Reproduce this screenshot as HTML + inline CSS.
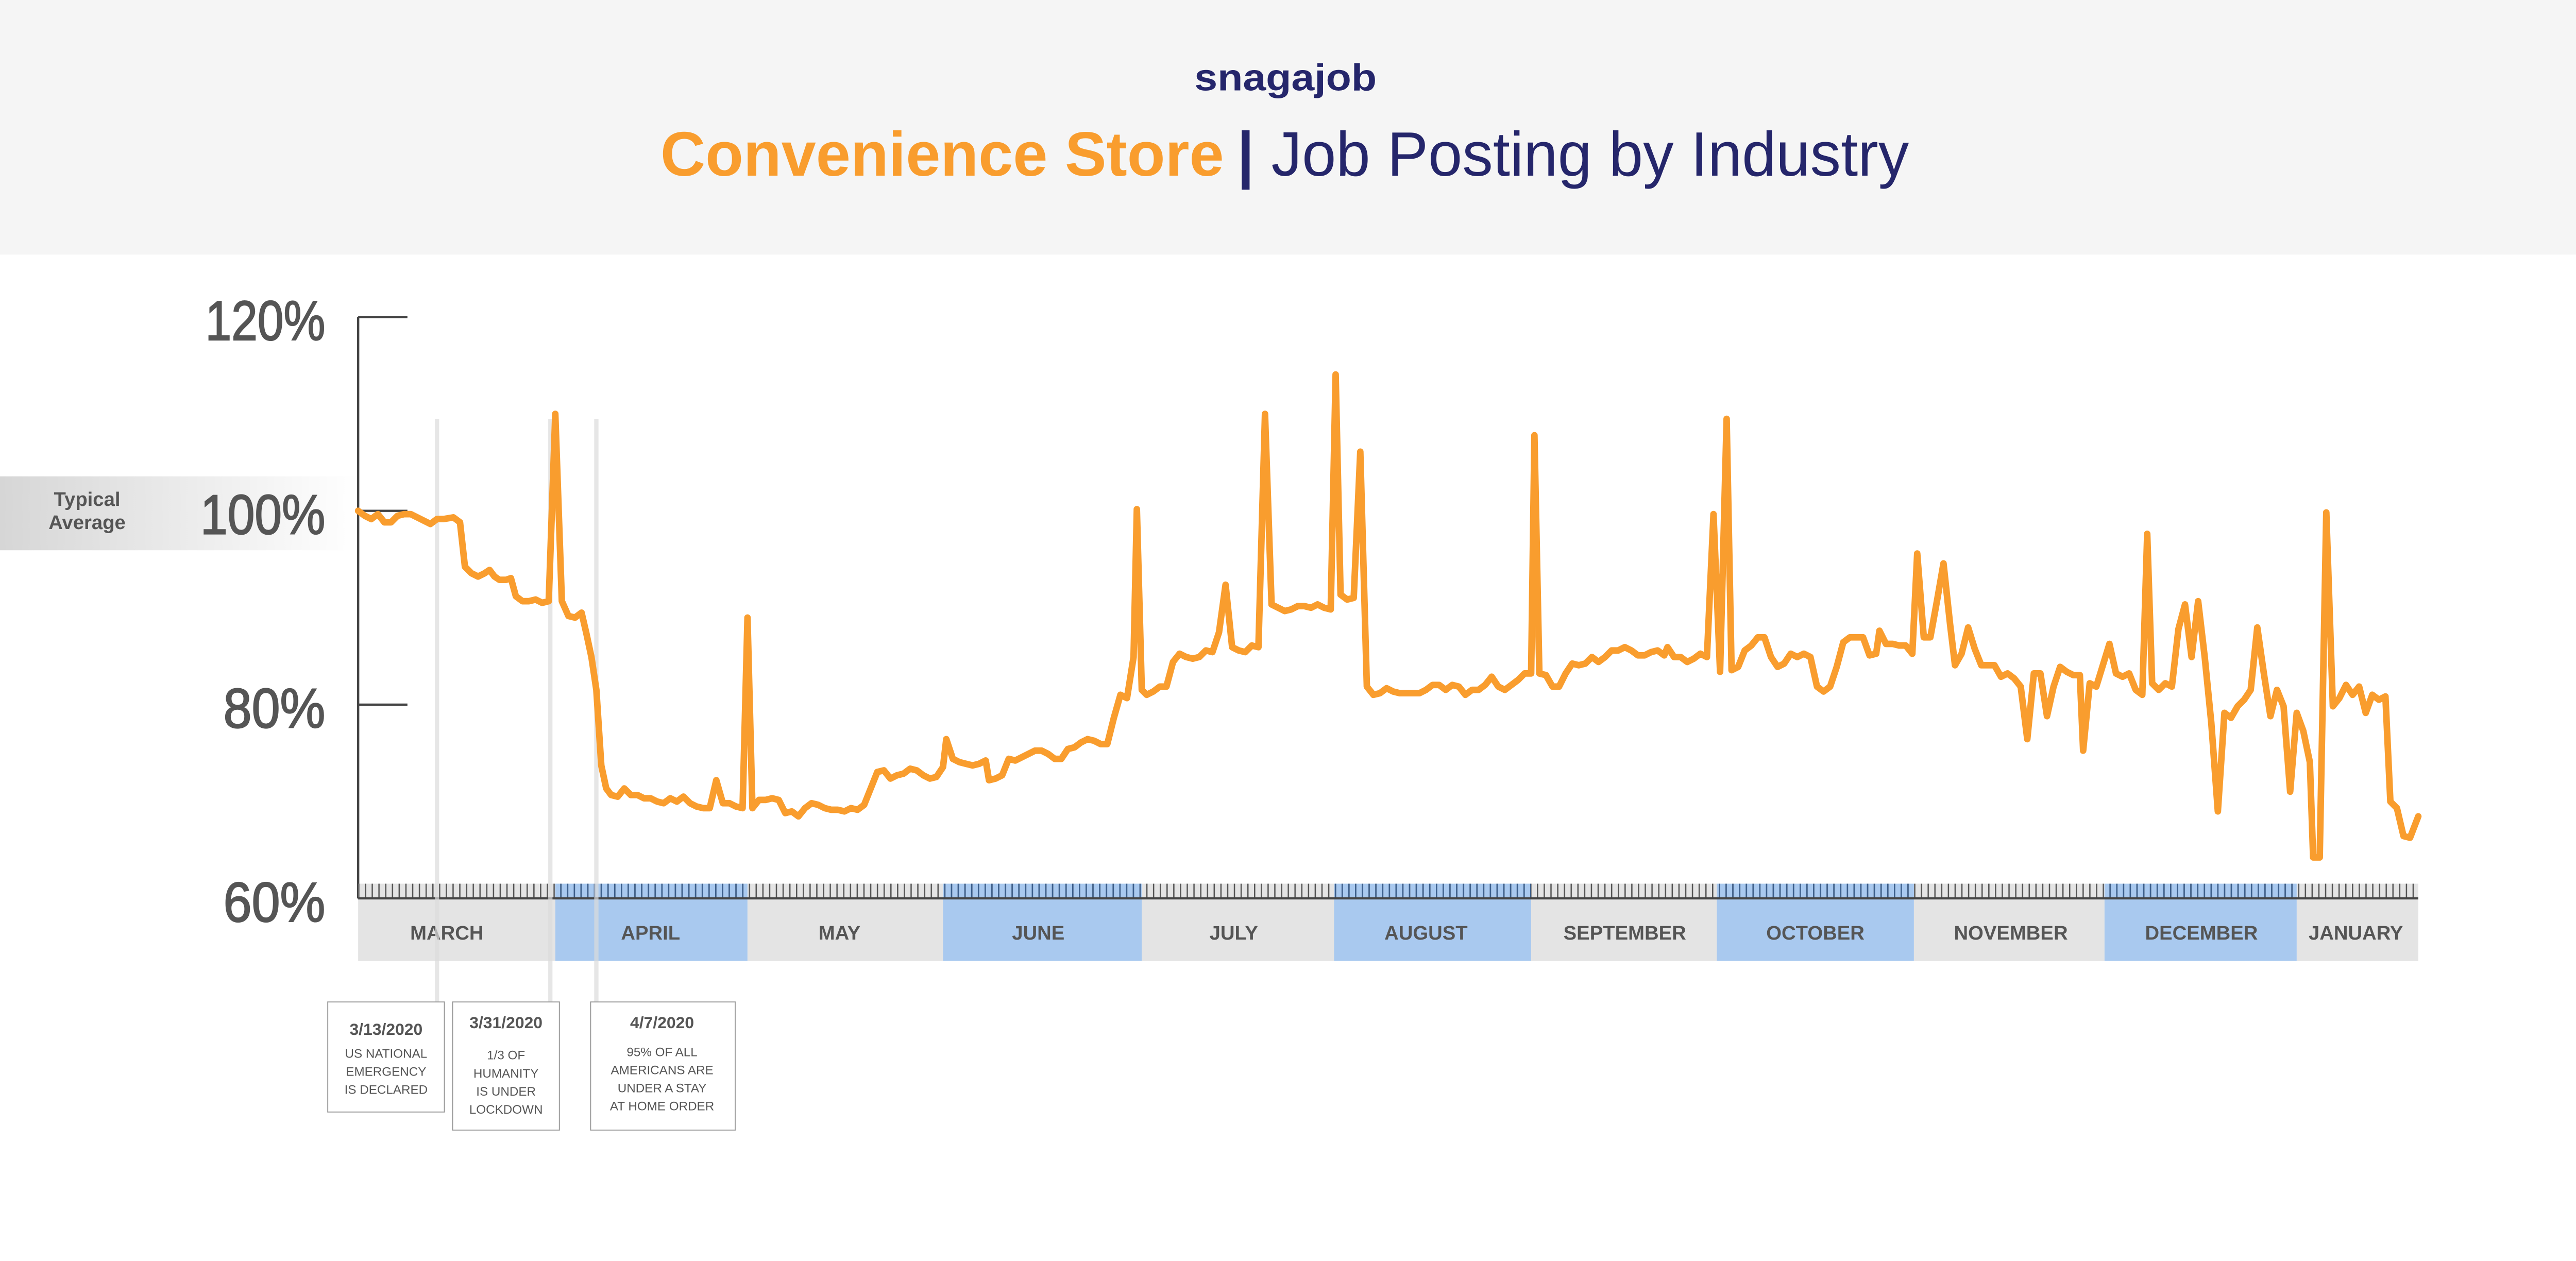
<!DOCTYPE html>
<html><head><meta charset="utf-8"><style>html,body{margin:0;padding:0;background:#fff;overflow:hidden}svg{display:block;position:fixed;left:0;top:0;width:100vw;height:46.5665vw}</style></head>
<body>
<svg viewBox="0 0 1568 730.17" preserveAspectRatio="none" xmlns="http://www.w3.org/2000/svg" font-family="Liberation Sans, sans-serif">
<defs>
<linearGradient id="ta" x1="0" x2="1" y1="0" y2="0"><stop offset="0" stop-color="#d6d6d6"/><stop offset="1" stop-color="#ffffff"/></linearGradient>
<pattern id="tk" x="218" y="0" width="4.1" height="10" patternUnits="userSpaceOnUse"><rect x="0" y="0" width="0.8" height="10" fill="#555"/></pattern>
<pattern id="tkb" x="218" y="0" width="4.1" height="10" patternUnits="userSpaceOnUse"><rect x="0" y="0" width="0.8" height="10" fill="#3c5f8c"/></pattern>
</defs>
<rect x="0" y="0" width="1568" height="155" fill="#f5f5f5"/>
<text x="727" y="55" font-size="23" font-weight="bold" fill="#25266b" textLength="111" lengthAdjust="spacingAndGlyphs">snagajob</text>
<text x="402" y="107" font-size="38" font-weight="bold" fill="#f99d2e" textLength="343" lengthAdjust="spacingAndGlyphs">Convenience Store</text>
<text x="753" y="107" font-size="38" fill="#25266b" textLength="409" lengthAdjust="spacingAndGlyphs"><tspan font-weight="bold">|</tspan> Job Posting by Industry</text>

<rect x="0" y="290" width="218" height="45" fill="url(#ta)"/>
<text x="53" y="308" text-anchor="middle" font-size="12" font-weight="bold" fill="#555">Typical</text>
<text x="53" y="322" text-anchor="middle" font-size="12" font-weight="bold" fill="#555">Average</text>

<g font-size="34" fill="#555" stroke="#555" stroke-width="0.7">
<text x="125" y="207" textLength="73" lengthAdjust="spacingAndGlyphs">120%</text>
<text x="122" y="325" textLength="76" lengthAdjust="spacingAndGlyphs">100%</text>
<text x="136" y="443" textLength="62" lengthAdjust="spacingAndGlyphs">80%</text>
<text x="136" y="561" textLength="62" lengthAdjust="spacingAndGlyphs">60%</text>
</g>
<g stroke="#444" stroke-width="1.4" fill="none">
<path d="M218 193 H248 M218 311 H248 M218 429 H248 M218 193 V547"/>
</g>

<g>
<rect x="218" y="538" width="120" height="47" fill="#e4e4e4"/>
<rect x="338" y="538" width="117" height="47" fill="#a9c9ef"/>
<rect x="455" y="538" width="119" height="47" fill="#e4e4e4"/>
<rect x="574" y="538" width="121" height="47" fill="#a9c9ef"/>
<rect x="695" y="538" width="117" height="47" fill="#e4e4e4"/>
<rect x="812" y="538" width="120" height="47" fill="#a9c9ef"/>
<rect x="932" y="538" width="113" height="47" fill="#e4e4e4"/>
<rect x="1045" y="538" width="120" height="47" fill="#a9c9ef"/>
<rect x="1165" y="538" width="116" height="47" fill="#e4e4e4"/>
<rect x="1281" y="538" width="117" height="47" fill="#a9c9ef"/>
<rect x="1398" y="538" width="74" height="47" fill="#e4e4e4"/>
<rect x="218" y="538" width="1254" height="9" fill="url(#tk)"/>
<rect x="338" y="538" width="117" height="9" fill="url(#tkb)"/>
<rect x="574" y="538" width="121" height="9" fill="url(#tkb)"/>
<rect x="812" y="538" width="120" height="9" fill="url(#tkb)"/>
<rect x="1045" y="538" width="120" height="9" fill="url(#tkb)"/>
<rect x="1281" y="538" width="117" height="9" fill="url(#tkb)"/>
<rect x="218" y="546.3" width="1254" height="1.3" fill="#444"/>
</g>
<g font-size="12" font-weight="bold" fill="#555" text-anchor="middle">
<text x="272" y="572">MARCH</text><text x="396" y="572">APRIL</text><text x="511" y="572">MAY</text>
<text x="632" y="572">JUNE</text><text x="751" y="572">JULY</text><text x="868" y="572">AUGUST</text>
<text x="989" y="572">SEPTEMBER</text><text x="1105" y="572">OCTOBER</text><text x="1224" y="572">NOVEMBER</text>
<text x="1340" y="572">DECEMBER</text><text x="1434" y="572">JANUARY</text>
</g>

<g stroke="#dcdcdc" stroke-width="2.6">
<line x1="266" y1="255" x2="266" y2="610" stroke-opacity="0.7"/>
<line x1="335" y1="255" x2="335" y2="610" stroke-opacity="0.7"/>
<line x1="363" y1="255" x2="363" y2="610" stroke-opacity="0.7"/>
</g>

<polyline fill="none" stroke="#f99d2e" stroke-width="4" stroke-linejoin="round" stroke-linecap="round" points="218,311 222,314 226,316 230,313 234,318 238,318 242,314 246,313 250,313 254,315 258,317 262,319 266,316 270,316 276,315 280,318 283,345 287,349 291,351 295,349 298,347 301,351 304,353 308,353 311,352 314,363 318,366 322,366 326,365 330,367 334,366 338,252 342,366 346,375 350,376 354,373 357,386 360,400 363,420 366,466 369,480 372,484 376,485 380,480 384,484 388,484 392,486 396,486 400,488 404,489 408,486 412,488 416,485 420,489 424,491 428,492 432,492 436,475 440,489 444,489 448,491 452,492 455,376 458,492 462,487 466,487 470,486 474,487 478,495 482,494 486,497 490,492 494,489 498,490 502,492 506,493 510,493 514,494 518,492 522,493 526,490 530,480 534,470 538,469 542,474 546,472 550,471 554,468 558,469 562,472 566,474 570,473 574,467 576,450 580,462 584,464 588,465 592,466 596,465 600,463 602,475 606,474 610,472 614,462 618,463 622,461 626,459 630,457 634,457 638,459 642,462 646,462 650,456 654,455 658,452 662,450 666,451 670,453 674,453 678,437 682,423 686,425 690,400 692,310 695,420 698,423 702,421 706,418 710,418 714,403 718,398 722,400 726,401 730,400 734,396 738,397 742,385 746,356 750,394 754,396 758,397 762,393 766,394 770,252 774,368 778,370 782,372 786,371 790,369 794,369 798,370 802,368 806,370 810,371 813,228 816,362 820,365 824,364 828,275 832,418 836,423 840,422 844,419 848,421 852,422 856,422 860,422 864,422 868,420 872,417 876,417 880,420 884,417 888,418 892,423 896,420 900,420 904,417 908,412 912,418 916,420 920,417 924,414 928,410 932,410 934,265 937,410 941,411 945,418 949,418 953,410 957,404 961,405 965,404 969,400 973,403 977,400 981,396 985,396 989,394 993,396 997,399 1001,399 1005,397 1009,396 1013,399 1015,394 1019,400 1023,400 1027,403 1031,401 1035,398 1039,400 1043,313 1047,409 1051,255 1054,408 1058,406 1062,396 1066,393 1070,388 1074,388 1078,400 1082,406 1086,404 1090,398 1094,400 1098,398 1102,400 1106,418 1110,421 1114,418 1118,406 1122,391 1126,388 1130,388 1134,388 1138,399 1142,398 1144,384 1148,392 1152,392 1156,393 1160,393 1164,398 1167,337 1171,388 1175,388 1179,366 1183,343 1187,380 1190,405 1194,398 1198,382 1202,395 1206,405 1210,405 1214,405 1218,412 1222,410 1226,413 1230,418 1234,450 1238,410 1242,410 1246,436 1250,418 1254,406 1258,409 1262,411 1266,411 1268,457 1272,416 1276,418 1280,405 1284,392 1288,410 1292,412 1296,410 1300,420 1304,423 1307,325 1310,416 1314,420 1318,416 1322,418 1326,383 1330,368 1334,400 1338,366 1342,400 1346,440 1350,494 1354,434 1358,437 1362,430 1366,426 1370,420 1374,382 1378,410 1382,436 1386,420 1390,430 1394,482 1398,434 1402,445 1406,464 1408,522 1412,522 1416,312 1420,430 1424,425 1428,417 1432,423 1436,418 1440,434 1444,423 1448,426 1452,424 1455,488 1459,492 1463,509 1467,510 1472,497"/>

<g fill="#fff" stroke="#999" stroke-width="0.6">
<rect x="199.5" y="610" width="71" height="67"/>
<rect x="275.5" y="610" width="65" height="78"/>
<rect x="359.5" y="610" width="88" height="78"/>
</g>
<g fill="#555" text-anchor="middle">
<g font-size="10" font-weight="bold">
<text x="235" y="630">3/13/2020</text><text x="308" y="626">3/31/2020</text><text x="403" y="626">4/7/2020</text>
</g>
<g font-size="7.6">
<text x="235" y="644">US NATIONAL</text><text x="235" y="655">EMERGENCY</text><text x="235" y="666">IS DECLARED</text>
<text x="308" y="645">1/3 OF</text><text x="308" y="656">HUMANITY</text><text x="308" y="667">IS UNDER</text><text x="308" y="678">LOCKDOWN</text>
<text x="403" y="643">95% OF ALL</text><text x="403" y="654">AMERICANS ARE</text><text x="403" y="665">UNDER A STAY</text><text x="403" y="676">AT HOME ORDER</text>
</g>
</g>
</svg>
</body></html>
